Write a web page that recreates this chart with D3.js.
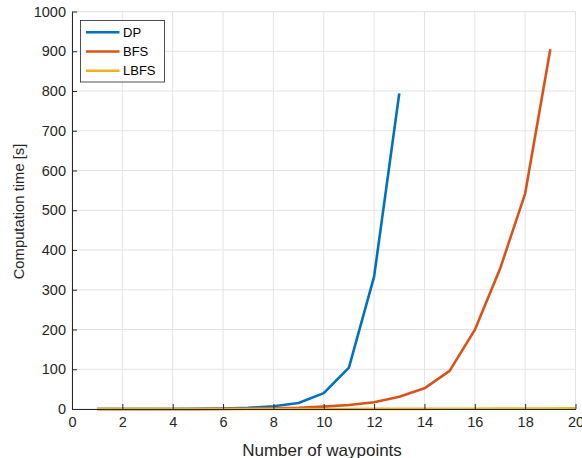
<!DOCTYPE html>
<html><head><meta charset="utf-8">
<script src="https://cdn.jsdelivr.net/npm/d3@7"></script>
<style>body{margin:0;background:#fff;} svg{display:block;font-family:"Liberation Sans",Arial,Helvetica,sans-serif;}</style>
</head><body>
<svg id="c" width="582" height="458"></svg>
<script>
const seriesNames = ["DP","BFS","LBFS"];
const colors = ["#0072BD","#D95319","#EDB120"];
const dpX = [1,2,3,4,5,6,7,8,9,10,11,12,13];
const dpY = [0,0,0,0.1,0.3,1,3,7,15,40,104,333,794];
const bfsX = [1,2,3,4,5,6,7,8,9,10,11,12,13,14,15,16,17,18,19];
const bfsY = [0,0,0,0,0.1,0.3,0.7,1.5,3,6,10,17,31,52,96,199,352,542,905];
const lbfsX = [1,2,3,4,5,6,7,8,9,10,11,12,13,14,15,16,17,18,19,20];
const lbfsY = [0,0,0,0,0,0,0,0,0,0.1,0.1,0.2,0.3,0.4,0.5,0.7,0.9,1.1,1.4,1.8];
const xTicks = [0,2,4,6,8,10,12,14,16,18,20];
const yTicks = [0,100,200,300,400,500,600,700,800,900,1000];

const svg = d3.select("#c");
const L=72, R=575.5, T=11.5, B=409;
const x = d3.scaleLinear().domain([0,20]).range([L,R]);
const y = d3.scaleLinear().domain([0,1000]).range([B,T]);
const axisCol="#262626";

// grid
const g = svg.append("g");
g.selectAll(".gx").data(xTicks).enter().append("line")
 .attr("x1",d=>x(d)).attr("x2",d=>x(d)).attr("y1",T).attr("y2",B)
 .attr("stroke","#e3e3e3").attr("stroke-width",1);
g.selectAll(".gy").data(yTicks).enter().append("line")
 .attr("x1",L).attr("x2",R).attr("y1",d=>y(d)).attr("y2",d=>y(d))
 .attr("stroke","#e3e3e3").attr("stroke-width",1);

// lines
const data = [[dpX,dpY],[bfsX,bfsY],[lbfsX,lbfsY]];
const line = d3.line().x(d=>x(d[0])).y(d=>y(d[1]));
data.forEach((s,i)=>{
  const pts = s[0].map((v,j)=>[v,s[1][j]]);
  svg.append("path").attr("d",line(pts)).attr("fill","none")
   .attr("stroke",colors[i]).attr("stroke-width",2.6).attr("stroke-linejoin","round");
});

// axes
const xAxis = d3.axisBottom(x).tickValues(xTicks).tickFormat(d3.format("d")).tickSizeInner(-5).tickSizeOuter(0).tickPadding(8);
const yAxis = d3.axisLeft(y).tickValues(yTicks).tickFormat(d3.format("d")).tickSizeInner(-5).tickSizeOuter(0).tickPadding(6);
const gx = svg.append("g").attr("transform",`translate(0,${B})`).call(xAxis);
const gy = svg.append("g").attr("transform",`translate(${L},0)`).call(yAxis);
[gx,gy].forEach(a=>{
  a.select(".domain").attr("stroke",axisCol).attr("stroke-width",1);
  a.selectAll(".tick line").attr("stroke",axisCol);
  a.selectAll(".tick text").attr("fill",axisCol).attr("font-size","14.5px")
   .attr("font-family","'Liberation Sans',Arial,sans-serif");
});
gx.selectAll(".tick text").attr("dy","0.71em");

// labels
svg.append("text").attr("x",322).attr("y",455.5).attr("text-anchor","middle")
 .attr("font-size","17px").attr("fill",axisCol).text("Number of waypoints");
svg.append("text").attr("transform",`translate(24,211.5) rotate(-90)`).attr("text-anchor","middle")
 .attr("font-size","14.8px").attr("fill",axisCol).text("Computation time [s]");

// legend
const lg = svg.append("g");
lg.append("rect").attr("x",80.5).attr("y",20.5).attr("width",84).attr("height",61.5)
 .attr("fill","#fff").attr("stroke",axisCol).attr("stroke-width",0.8);
seriesNames.forEach((n,i)=>{
  const yy = 32.3 + i*19.2;
  lg.append("line").attr("x1",86).attr("x2",119.5).attr("y1",yy).attr("y2",yy)
   .attr("stroke",colors[i]).attr("stroke-width",2.6);
  lg.append("text").attr("x",123).attr("y",yy).attr("dy","0.36em")
   .attr("font-size","13px").attr("fill","#000").text(n);
});
</script>
</body></html>
